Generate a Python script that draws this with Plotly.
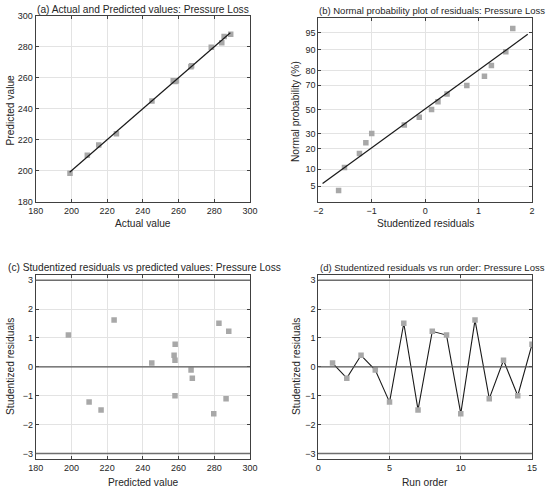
"""
residual diagnostics for the pressure loss model
"""
from statistics import NormalDist
import plotly.graph_objects as go

# Run-order data (15 runs)
run_order = list(range(1, 16))
actual_values = [245.1, 267.3, 258.0, 266.9, 208.9, 284.2, 215.3, 289.2,
                 199.2, 278.3, 225.2, 285.5, 258.4, 257.0, 258.8]
predicted_values = [245.0, 267.7, 257.5, 267.0, 209.9, 282.6, 216.6, 288.1,
                    198.3, 279.7, 223.9, 286.6, 258.0, 258.0, 258.1]
student_residuals = [0.13, -0.39, 0.40, -0.11, -1.22, 1.51, -1.49, 1.23,
                     1.10, -1.62, 1.62, -1.10, 0.23, -1.00, 0.78]

# Normal probability plot: sorted residuals vs plotting position (%)
sorted_residuals = [-1.62, -1.51, -1.23, -1.11, -1.00, -0.39, -0.11, 0.12,
                    0.24, 0.41, 0.78, 1.11, 1.24, 1.51, 1.64]
normal_prob = [4.1, 10.7, 17.2, 23.8, 30.3, 36.9, 43.4, 50.0,
               56.6, 63.1, 69.7, 76.2, 82.8, 89.3, 95.9]
prob_ticks = [5, 10, 20, 30, 50, 70, 80, 90, 95]

# Reference lines
fit_line_x = [199.0, 289.0]
fit_line_y = [199.0, 289.0]
normal_line_x = [-1.92, 1.92]
normal_line_p = [5.6, 94.7]
limit_lines = [-3, 3]

W, H = 550, 490
FONT = "Liberation Sans"
TEXT = "#262626"
MARK = "#a8a8a8"


def z(p: float) -> float:
    """Map a percentage onto the normal probability axis."""
    return NormalDist().inv_cdf(p / 100)


def px_x(x: float) -> float:
    return x / W


def px_y(y: float) -> float:
    return 1 - y / H


fig = go.Figure()

marker = dict(symbol="square", size=5.5, color=MARK)

# (a) actual vs predicted
fig.add_trace(go.Scatter(x=actual_values, y=predicted_values, mode="markers",
                         marker=marker, xaxis="x", yaxis="y"))
fig.add_trace(go.Scatter(x=fit_line_x, y=fit_line_y, mode="lines",
                         line=dict(color="#1a1a1a", width=1.2), xaxis="x", yaxis="y"))

# (b) normal probability plot
fig.add_trace(go.Scatter(x=sorted_residuals, y=[z(p) for p in normal_prob], mode="markers",
                         marker=marker, xaxis="x2", yaxis="y2"))
fig.add_trace(go.Scatter(x=normal_line_x, y=[z(p) for p in normal_line_p], mode="lines",
                         line=dict(color="#1a1a1a", width=1.2), xaxis="x2", yaxis="y2"))

# (c) residuals vs predicted
fig.add_trace(go.Scatter(x=predicted_values, y=student_residuals, mode="markers",
                         marker=marker, xaxis="x3", yaxis="y3"))

# (d) residuals vs run order
fig.add_trace(go.Scatter(x=run_order, y=student_residuals, mode="lines+markers",
                         line=dict(color="#1a1a1a", width=1.1),
                         marker=marker, xaxis="x4", yaxis="y4"))

axis_style = dict(showline=True, linecolor="#404040", linewidth=1, mirror="ticks",
                  ticks="inside", ticklen=3, tickcolor="#404040", automargin=False,
                  showgrid=True, gridcolor="#e3e3e3", gridwidth=1, zeroline=False,
                  tickfont=dict(family=FONT, size=9, color=TEXT))

# Axes positions (pixels -> paper)
left_dom = [px_x(35.7), px_x(250)]
right_dom = [px_x(318.3), px_x(532)]
top_dom = [px_y(201.7), px_y(15.7)]
bot_dom = [px_y(459.3), px_y(275)]

fig.update_layout(
    template="none",
    xaxis=dict(domain=left_dom, range=[180, 300], dtick=20, anchor="y", **axis_style),
    yaxis=dict(domain=top_dom, range=[180, 300], dtick=20, anchor="x", **axis_style),
    xaxis2=dict(domain=right_dom, range=[-2, 2], dtick=1, anchor="y2", **axis_style),
    yaxis2=dict(domain=[px_y(201.7), px_y(18.3)], range=[-1.98, 1.96], anchor="x2",
                tickvals=[z(p) for p in prob_ticks], ticktext=[str(p) for p in prob_ticks],
                **axis_style),
    xaxis3=dict(domain=left_dom, range=[180, 300], dtick=20, anchor="y3", **axis_style),
    yaxis3=dict(domain=bot_dom, range=[-3.2, 3.18], dtick=1, anchor="x3", **axis_style),
    xaxis4=dict(domain=right_dom, range=[0, 15], dtick=5, anchor="y4", **axis_style),
    yaxis4=dict(domain=bot_dom, range=[-3.2, 3.18], dtick=1, anchor="x4", **axis_style),
)

# Zero and +/-3 limit lines on the residual plots
for xr, yr in (("x3", "y3"), ("x4", "y4")):
    fig.add_shape(type="line", xref=f"{xr} domain", yref=yr, x0=0, x1=1, y0=0, y1=0,
                  line=dict(color="#5a5a5a", width=1.2))
    for lim in limit_lines:
        fig.add_shape(type="line", xref=f"{xr} domain", yref=yr, x0=0, x1=1, y0=lim, y1=lim,
                      line=dict(color="#6e6e6e", width=1.6))

# Titles and axis labels as annotations (pixel positions, font size)
labels = [
    ("(a) Actual and Predicted values: Pressure Loss", 143, 9, 0, 10.2),
    ("(b) Normal probability plot of residuals: Pressure Loss", 432, 10, 0, 9.5),
    ("(c) Studentized residuals vs predicted values: Pressure Loss", 144, 267.5, 0, 10.2),
    ("(d) Studentized residuals vs run order: Pressure Loss", 432, 267, 0, 9.5),
    ("Actual value", 143, 224, 0, 10.2),
    ("Studentized residuals", 425, 224, 0, 10.2),
    ("Predicted value", 143, 482, 0, 10.2),
    ("Run order", 425, 482.5, 0, 10.2),
    ("Predicted value", 9.5, 110, -90, 10.2),
    ("Normal probability (%)", 296, 112, -90, 10.2),
    ("Studentized residuals", 10, 367, -90, 10.2),
    ("Studentized residuals", 296, 367, -90, 10.2),
]
for text, x, y, angle, size in labels:
    fig.add_annotation(text=text, x=px_x(x), y=px_y(y), xref="paper", yref="paper",
                       xanchor="center", yanchor="middle", showarrow=False, textangle=angle,
                       font=dict(family=FONT, size=size, color=TEXT))

fig.update_layout(width=W, height=H, margin=dict(l=0, r=0, t=0, b=0),
                  paper_bgcolor="white", plot_bgcolor="white", showlegend=False)

# drop the page's default body margin so the figure sits at the window's corner
fig.write_html("out.html", config={"displayModeBar": False},
               post_script="document.body.style.margin = '0';")
